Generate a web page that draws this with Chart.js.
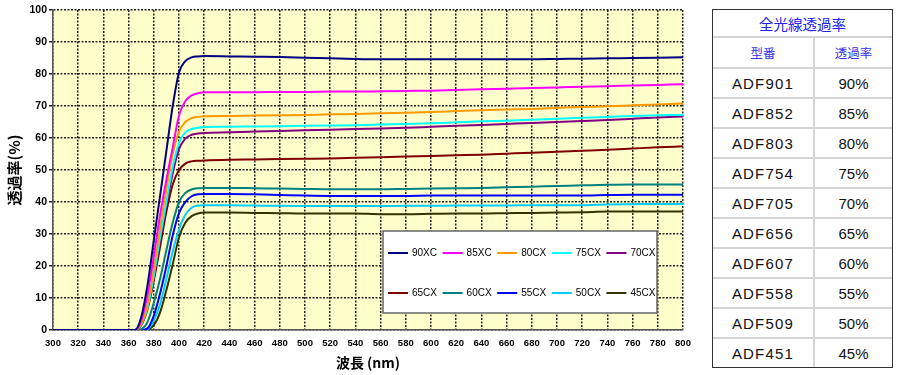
<!DOCTYPE html>
<html>
<head>
<meta charset="utf-8">
<script src="https://cdn.jsdelivr.net/npm/chart.js@4.4.1/dist/chart.umd.min.js"></script>
<style>
  html, body { margin: 0; padding: 0; background: #fff; }
  #wrap { position: relative; width: 900px; height: 375px; overflow: hidden; }
  #chartBox { position: absolute; left: 0; top: 0; width: 700px; height: 375px; }
  .tbl { position: absolute; left: 712px; top: 9px; width: 181px; height: 359px; box-sizing: border-box; border: 1.5px solid #333; }
  .tbl table { width: 100%; border-collapse: collapse; font-family: "Liberation Sans", Arial, sans-serif; }
  .tbl td { border: 2px solid #d4d6d6; text-align: center; padding: 0; color: #111; font-size: 15px; }
  .tbl tr:first-child td { border-top: none; }
  .tbl tr:last-child td { border-bottom: none; }
  .tbl td:first-child { border-left: none; }
  .tbl td:last-child { border-right: none; }
  .tbl .ttl td { height: 26px; color: #2222ee; font-size: 14.5px; font-family: "Noto Sans CJK JP", sans-serif; }
  .tbl .hdr td { height: 29px; color: #3333ee; font-size: 12.5px; font-family: "Noto Sans CJK JP", sans-serif; }
  .tbl .row td { height: 28px; }
  .tbl .row td:first-child { width: 100px; letter-spacing: 1.2px; }
</style>
</head>
<body>
<div id="wrap">
  <div id="chartBox"><canvas id="chart"></canvas></div>
  <div class="tbl"><table id="tbl"></table></div>
</div>
<script>
// wavelength (nm) sample points
const wavelengths = [300, 360, 365, 370, 375, 380, 385, 390, 395, 400, 405, 410, 415, 420,
  440, 460, 480, 500, 520, 540, 560, 580, 600, 620, 640, 660, 680, 700, 720, 740, 760, 780, 800];

const labels = ['90XC', '85XC', '80CX', '75CX', '70CX', '65CX', '60CX', '55CX', '50CX', '45CX'];
const colors = ['#000080', '#ff00ff', '#ff9900', '#00ffff', '#800080', '#800000', '#008080', '#0000ff', '#00ccff', '#333300'];

const s90XC = [0, 0, 0, 4, 14, 28, 42, 56, 70, 80.5, 84, 85.2, 85.5, 85.6,
  85.5, 85.4, 85.3, 85.1, 84.9, 84.7, 84.6, 84.6, 84.6, 84.6, 84.6, 84.6, 84.6, 84.7, 84.8, 84.9, 85.0, 85.1, 85.2];
const s85XC = [0, 0, 0, 3, 11, 23, 36, 47, 57, 67, 71.5, 73.3, 74, 74.3,
  74.3, 74.3, 74.4, 74.4, 74.5, 74.5, 74.6, 74.7, 74.8, 75.0, 75.2, 75.4, 75.6, 75.8, 76.0, 76.2, 76.4, 76.6, 76.8];
const s80CX = [0, 0, 0, 2, 8, 19, 32, 44, 55, 62, 65, 66.2, 66.6, 66.8,
  66.9, 67.0, 67.1, 67.2, 67.4, 67.5, 67.7, 67.9, 68.1, 68.4, 68.7, 68.9, 69.1, 69.4, 69.7, 69.9, 70.2, 70.5, 70.8];
const s75CX = [0, 0, 0, 1.8, 7, 17, 29, 40, 51, 58.5, 61.7, 62.8, 63.2, 63.4,
  63.5, 63.6, 63.7, 63.8, 63.9, 64.0, 64.2, 64.4, 64.6, 64.9, 65.2, 65.4, 65.7, 66.0, 66.3, 66.6, 66.9, 67.1, 67.2];
const s70CX = [0, 0, 0, 1.8, 7, 16, 28, 39, 49, 56.5, 59.8, 61, 61.4, 61.6,
  61.8, 62.0, 62.2, 62.4, 62.6, 62.8, 63.0, 63.2, 63.5, 63.8, 64.1, 64.4, 64.7, 65.0, 65.3, 65.6, 66.0, 66.4, 66.7];
const s65CX = [0, 0, 0, 1.5, 6.5, 15.5, 26, 37, 45.5, 50, 52, 52.7, 52.9, 53.0,
  53.2, 53.3, 53.4, 53.5, 53.6, 53.8, 54.0, 54.2, 54.4, 54.6, 54.8, 55.1, 55.4, 55.7, 56.0, 56.3, 56.7, 57.1, 57.4];
const s60CX = [0, 0, 0, 0.3, 2.5, 8.5, 16, 25, 33.5, 40, 42.8, 43.9, 44.3, 44.4,
  44.4, 44.3, 44.2, 44.1, 44.0, 44.0, 44.0, 44.1, 44.2, 44.3, 44.4, 44.6, 44.8, 45.0, 45.2, 45.4, 45.5, 45.5, 45.5];
const s55CX = [0, 0, 0, 0, 0.5, 4.5, 11.5, 20, 29.5, 36.5, 40, 41.8, 42.4, 42.5,
  42.5, 42.4, 42.2, 42.0, 41.9, 41.9, 41.9, 41.9, 42.0, 42.0, 42.0, 42.0, 42.0, 42.0, 42.0, 42.2, 42.3, 42.3, 42.3];
const s50CX = [0, 0, 0, 0, 0.2, 3, 8, 16, 24.5, 31.5, 36, 38.2, 38.9, 39.0,
  39.0, 38.9, 38.8, 38.75, 38.75, 38.75, 38.75, 38.8, 38.8, 38.9, 38.9, 38.9, 39.0, 39.0, 39.0, 39.2, 39.3, 39.4, 39.4];
const s45CX = [0, 0, 0, 0, 0.1, 1.5, 5.5, 12.5, 20.5, 29, 33.5, 35.6, 36.4, 36.7,
  36.7, 36.6, 36.5, 36.4, 36.4, 36.4, 36.2, 36.2, 36.3, 36.4, 36.4, 36.5, 36.6, 36.7, 36.8, 37.0, 37.0, 37.0, 37.0];

const series = [s90XC, s85XC, s80CX, s75CX, s70CX, s65CX, s60CX, s55CX, s50CX, s45CX];

// table on the right
const tableTitle = '全光線透過率';
const tableHeaders = ['型番', '透過率'];
const models = ['ADF901', 'ADF852', 'ADF803', 'ADF754', 'ADF705', 'ADF656', 'ADF607', 'ADF558', 'ADF509', 'ADF451'];
const rates = ['90%', '85%', '80%', '75%', '70%', '65%', '60%', '55%', '50%', '45%'];

const tbl = document.getElementById('tbl');
let html = `<tr class="ttl"><td colspan="2">${tableTitle}</td></tr>`;
html += `<tr class="hdr"><td>${tableHeaders[0]}</td><td>${tableHeaders[1]}</td></tr>`;
models.forEach((m, i) => { html += `<tr class="row"><td>${m}</td><td>${rates[i]}</td></tr>`; });
tbl.innerHTML = html;

const plotBackground = {
  id: 'plotBackground',
  beforeDraw(chart) {
    const { ctx, chartArea: a } = chart;
    ctx.save();
    ctx.fillStyle = '#ffffcc';
    ctx.fillRect(a.left, a.top, a.right - a.left, a.bottom - a.top);
    ctx.restore();
  },
};

const legendBox = {
  id: 'legendBox',
  afterDatasetsDraw(chart) {
    const { ctx, chartArea: a } = chart;
    const bx = a.left + 330, by = a.top + 221, bw = 274, bh = 82;
    ctx.save();
    ctx.fillStyle = '#fff';
    ctx.fillRect(bx, by, bw, bh);
    ctx.strokeStyle = '#666';
    ctx.lineWidth = 1.5;
    ctx.strokeRect(bx, by, bw, bh);
    ctx.font = '10px "Liberation Sans Narrow", "Liberation Sans", sans-serif';
    ctx.textBaseline = 'middle';
    chart.data.datasets.forEach((ds, i) => {
      const col = i % 5, row = Math.floor(i / 5);
      const x = bx + 5 + col * 54.6, y = by + 22 + row * 40;
      ctx.strokeStyle = ds.borderColor;
      ctx.lineWidth = 2;
      ctx.beginPath();
      ctx.moveTo(x, y);
      ctx.lineTo(x + 20, y);
      ctx.stroke();
      ctx.fillStyle = '#000';
      ctx.fillText(ds.label, x + 24, y + 0.5);
    });
    ctx.restore();
  },
};

const datasets = series.map((s, i) => ({
  label: labels[i],
  data: wavelengths.map((w, j) => ({ x: w, y: s[j] })),
  borderColor: colors[i],
  backgroundColor: colors[i],
  borderWidth: 2,
  pointRadius: 0,
  cubicInterpolationMode: 'monotone',
  fill: false,
}));

new Chart(document.getElementById('chart'), {
  type: 'line',
  data: { datasets },
  plugins: [plotBackground, legendBox],
  options: {
    responsive: true,
    maintainAspectRatio: false,
    animation: false,
    layout: { padding: { top: 10, right: 17, bottom: 0, left: 0 } },
    plugins: {
      legend: { display: false },
      tooltip: { enabled: false },
    },
    scales: {
      x: {
        type: 'linear',
        min: 300,
        max: 800,
        afterFit(scale) { scale.height = 45; },
        ticks: {
          stepSize: 20,
          color: '#000',
          padding: 8,
          maxRotation: 0,
          autoSkip: false,
          font: { family: '"Liberation Sans Narrow", "Liberation Sans", sans-serif', size: 9.5, weight: 'bold' },
        },
        grid: { color: '#222', lineWidth: 1.5, drawTicks: false },
        border: { display: true, color: '#555', width: 1.5, dash: [2, 1.5] },
        title: {
          display: true,
          text: '波長 (nm)',
          color: '#000',
          padding: { top: 0, bottom: 4 },
          font: { family: '"Noto Sans CJK JP", sans-serif', size: 14, weight: 'bold' },
        },
      },
      y: {
        min: 0,
        max: 100,
        afterFit(scale) { scale.width = 53; },
        ticks: {
          stepSize: 10,
          color: '#000',
          padding: 2,
          font: { family: '"Liberation Sans", sans-serif', size: 10.5, weight: 'bold' },
        },
        grid: { color: '#222', lineWidth: 1.5, tickLength: 4 },
        border: { display: true, color: '#555', width: 1.5, dash: [2, 1.5] },
        title: {
          display: true,
          text: '透過率(%)',
          color: '#000',
          padding: { top: 5, bottom: 0 },
          font: { family: '"Noto Sans CJK JP", sans-serif', size: 15, weight: 'bold' },
        },
      },
    },
  },
});
</script>
</body>
</html>
